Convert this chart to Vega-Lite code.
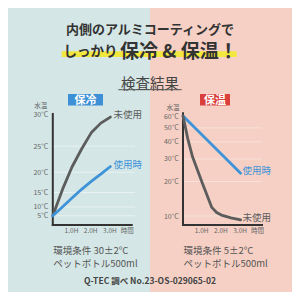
{
  "$schema": "https://vega.github.io/schema/vega-lite/v6.json",
  "background": "white",
  "padding": 8,
  "autosize": {"type": "pad"},
  "bounds": "flush",
  "spacing": 0,
  "config": {"view": {"stroke": null}, "font": "Noto Sans CJK JP", "text": {"font": "Noto Sans CJK JP"}},
  "datasets": {
    "lines": [
      {"panel": "保冷", "series": "未使用", "hour": 0, "temp": 5},
      {"panel": "保冷", "series": "未使用", "hour": 0.5, "temp": 15.8},
      {"panel": "保冷", "series": "未使用", "hour": 1, "temp": 21.1},
      {"panel": "保冷", "series": "未使用", "hour": 1.5, "temp": 24.5},
      {"panel": "保冷", "series": "未使用", "hour": 2, "temp": 27.2},
      {"panel": "保冷", "series": "未使用", "hour": 2.5, "temp": 28.7},
      {"panel": "保冷", "series": "未使用", "hour": 3, "temp": 29.6},
      {"panel": "保冷", "series": "使用時", "hour": 0, "temp": 5},
      {"panel": "保冷", "series": "使用時", "hour": 0.5, "temp": 10},
      {"panel": "保冷", "series": "使用時", "hour": 1, "temp": 13.3},
      {"panel": "保冷", "series": "使用時", "hour": 1.5, "temp": 15.9},
      {"panel": "保冷", "series": "使用時", "hour": 2, "temp": 17.9},
      {"panel": "保冷", "series": "使用時", "hour": 2.5, "temp": 19.6},
      {"panel": "保冷", "series": "使用時", "hour": 3, "temp": 21.2},
      {"panel": "保温", "series": "使用時", "hour": 0, "temp": 60},
      {"panel": "保温", "series": "使用時", "hour": 3, "temp": 23.3},
      {"panel": "保温", "series": "未使用", "hour": 0, "temp": 60},
      {"panel": "保温", "series": "未使用", "hour": 0.25, "temp": 42},
      {"panel": "保温", "series": "未使用", "hour": 0.5, "temp": 31},
      {"panel": "保温", "series": "未使用", "hour": 1, "temp": 19.5},
      {"panel": "保温", "series": "未使用", "hour": 1.5, "temp": 12},
      {"panel": "保温", "series": "未使用", "hour": 1.75, "temp": 10.8},
      {"panel": "保温", "series": "未使用", "hour": 2, "temp": 10.2},
      {"panel": "保温", "series": "未使用", "hour": 2.5, "temp": 9.6},
      {"panel": "保温", "series": "未使用", "hour": 3, "temp": 9.2}
    ],
    "gridL": [{"temp": 5}, {"temp": 10}, {"temp": 15}, {"temp": 20}, {"temp": 25}],
    "gridR": [{"temp": 10}, {"temp": 20}, {"temp": 30}, {"temp": 40}, {"temp": 50}]
  },
  "hconcat": [
    {
      "width": 142,
      "height": 284,
      "view": {"fill": "#d4e7e6", "stroke": null},
      "layer": [
        {
          "data": {"name": "gridL"},
          "mark": {"type": "rule", "color": "#ffffff", "opacity": 0.45, "strokeWidth": 1},
          "encoding": {
            "y": {
              "field": "temp", "type": "quantitative",
              "scale": {"type": "pow", "exponent": 2, "domain": [-25.17, 42.63], "nice": false, "zero": false},
              "axis": {"orient": "left", "offset": -44.8, "zindex": 2, "values": [5, 10, 15, 20, 25, 30], "labelExpr": "datum.value + '°C'", "domain": false, "ticks": false, "grid": false, "labelPadding": 5, "labelFontSize": 7, "labelColor": "#666666", "labelOverlap": false, "labelFlush": false,
                "title": "水温", "titleAngle": 0, "titleX": -12.5, "titleY": 97.3, "titleAlign": "center", "titleBaseline": "middle", "titleFontSize": 6.5, "titleFontWeight": "normal", "titleColor": "#666666"}
            },
            "x": {
              "datum": 0, "type": "quantitative",
              "scale": {"type": "linear", "domain": [-2.333, 5.0625], "nice": false, "zero": false},
              "axis": {"orient": "bottom", "offset": -67, "zindex": 2, "values": [1, 2, 3, 3.9], "labelExpr": "datum.value > 3.5 ? '時間' : format(datum.value, '.1f') + 'H'", "domain": false, "ticks": false, "grid": false, "labelPadding": 2, "labelFontSize": 6.5, "labelColor": "#666666", "labelFlush": false, "labelOverlap": false, "labelOffset": -1,
                "title": ["環境条件 30±2°C", "ペットボトル500ml"], "titleX": 44.8, "titleY": 20.5, "titleAlign": "left", "titleAnchor": "start", "titleBaseline": "top", "titleFontSize": 9.5, "titleFontWeight": "normal", "titleColor": "#555555", "titleLineHeight": 13}
            },
            "x2": {"datum": 4.28}
          }
        },
        {
          "data": {"values": [{}]},
          "mark": {"type": "rule", "color": "#333333", "strokeWidth": 2, "strokeCap": "square"},
          "encoding": {
            "x": {"datum": 0, "type": "quantitative", "scale": {"type": "linear", "domain": [-2.333, 5.0625], "nice": false, "zero": false}},
            "y": {"datum": -7.43, "type": "quantitative", "scale": {"type": "pow", "exponent": 2, "domain": [-25.17, 42.63], "nice": false, "zero": false}},
            "y2": {"datum": 30.05}
          }
        },
        {
          "data": {"values": [{}]},
          "mark": {"type": "rule", "color": "#333333", "strokeWidth": 2, "strokeCap": "square"},
          "encoding": {
            "x": {"datum": 0, "type": "quantitative", "scale": {"type": "linear", "domain": [-2.333, 5.0625], "nice": false, "zero": false}},
            "x2": {"datum": 4.11},
            "y": {"datum": -7.43, "type": "quantitative", "scale": {"type": "pow", "exponent": 2, "domain": [-25.17, 42.63], "nice": false, "zero": false}}
          }
        },
        {
          "data": {"name": "lines"},
          "transform": [{"filter": "datum.panel === '保冷'"}],
          "mark": {"type": "line", "strokeWidth": 2.8, "strokeCap": "round", "strokeJoin": "round"},
          "encoding": {
            "x": {"field": "hour", "type": "quantitative", "scale": {"type": "linear", "domain": [-2.333, 5.0625], "nice": false, "zero": false}},
            "y": {"field": "temp", "type": "quantitative", "scale": {"type": "pow", "exponent": 2, "domain": [-25.17, 42.63], "nice": false, "zero": false}},
            "color": {"field": "series", "type": "nominal", "scale": {"domain": ["未使用", "使用時"], "range": ["#5c5c5c", "#3f93d8"]}, "legend": null}
          }
        },
        {
          "data": {"name": "lines"},
          "transform": [{"filter": "datum.panel === '保冷' && datum.hour === 3"}],
          "mark": {"type": "text", "align": "left", "baseline": "middle", "dx": 3, "dy": -2, "fontSize": 9.5},
          "encoding": {
            "x": {"field": "hour", "type": "quantitative", "scale": {"type": "linear", "domain": [-2.333, 5.0625], "nice": false, "zero": false}},
            "y": {"field": "temp", "type": "quantitative", "scale": {"type": "pow", "exponent": 2, "domain": [-25.17, 42.63], "nice": false, "zero": false}},
            "text": {"field": "series"},
            "color": {"field": "series", "type": "nominal", "scale": {"domain": ["未使用", "使用時"], "range": ["#5c5c5c", "#3f93d8"]}, "legend": null}
          }
        },
        {
          "data": {"values": [{}]},
          "mark": {"type": "rect", "color": "#3d8fd6"},
          "encoding": {
            "x": {"datum": 0.792, "type": "quantitative", "scale": {"type": "linear", "domain": [-2.333, 5.0625], "nice": false, "zero": false}},
            "x2": {"datum": 2.615},
            "y": {"datum": 31.24, "type": "quantitative", "scale": {"type": "pow", "exponent": 2, "domain": [-25.17, 42.63], "nice": false, "zero": false}},
            "y2": {"datum": 32.79}
          }
        },
        {
          "data": {"values": [{"t": "保冷"}]},
          "mark": {"type": "text", "color": "#ffffff", "fontSize": 11, "fontWeight": "bold", "align": "center", "baseline": "middle"},
          "encoding": {
            "x": {"datum": 1.703, "type": "quantitative", "scale": {"type": "linear", "domain": [-2.333, 5.0625], "nice": false, "zero": false}},
            "y": {"datum": 31.82, "type": "quantitative", "scale": {"type": "pow", "exponent": 2, "domain": [-25.17, 42.63], "nice": false, "zero": false}},
            "text": {"field": "t"}
          }
        }
      ]
    },
    {
      "width": 142,
      "height": 284,
      "view": {"fill": "#f6d0c4", "stroke": null},
      "layer": [
        {
          "data": {"name": "gridR"},
          "mark": {"type": "rule", "color": "#ffffff", "opacity": 0.35, "strokeWidth": 1},
          "encoding": {
            "y": {
              "field": "temp", "type": "quantitative",
              "scale": {"type": "pow", "exponent": 0.2, "domain": [1.376, 245.3], "nice": false, "zero": false},
              "axis": {"orient": "left", "offset": -33, "zindex": 2, "values": [10, 20, 30, 40, 50, 60], "labelExpr": "datum.value + '°C'", "domain": false, "ticks": false, "grid": false, "labelPadding": 4.7, "labelFontSize": 7, "labelColor": "#666666", "labelOverlap": false, "labelFlush": false,
                "title": "水温", "titleAngle": 0, "titleX": -10.5, "titleY": 99, "titleAlign": "center", "titleBaseline": "middle", "titleFontSize": 6.5, "titleFontWeight": "normal", "titleColor": "#666666"}
            },
            "x": {
              "datum": 0, "type": "quantitative",
              "scale": {"type": "linear", "domain": [-1.719, 5.677], "nice": false, "zero": false},
              "axis": {"orient": "bottom", "offset": -67, "zindex": 2, "values": [1, 2, 3, 3.9], "labelExpr": "datum.value > 3.5 ? '時間' : format(datum.value, '.1f') + 'H'", "domain": false, "ticks": false, "grid": false, "labelPadding": 2, "labelFontSize": 6.5, "labelColor": "#666666", "labelFlush": false, "labelOverlap": false, "labelOffset": -1,
                "title": ["環境条件 5±2°C", "ペットボトル500ml"], "titleX": 33, "titleY": 20.5, "titleAlign": "left", "titleAnchor": "start", "titleBaseline": "top", "titleFontSize": 9.5, "titleFontWeight": "normal", "titleColor": "#555555", "titleLineHeight": 13}
            },
            "x2": {"datum": 4.115}
          }
        },
        {
          "data": {"values": [{}]},
          "mark": {"type": "rule", "color": "#333333", "strokeWidth": 2, "strokeCap": "square"},
          "encoding": {
            "x": {"datum": 0, "type": "quantitative", "scale": {"type": "linear", "domain": [-1.719, 5.677], "nice": false, "zero": false}},
            "y": {"datum": 8.21, "type": "quantitative", "scale": {"type": "pow", "exponent": 0.2, "domain": [1.376, 245.3], "nice": false, "zero": false}},
            "y2": {"datum": 62.5}
          }
        },
        {
          "data": {"values": [{}]},
          "mark": {"type": "rule", "color": "#333333", "strokeWidth": 2, "strokeCap": "square"},
          "encoding": {
            "x": {"datum": 0, "type": "quantitative", "scale": {"type": "linear", "domain": [-1.719, 5.677], "nice": false, "zero": false}},
            "x2": {"datum": 4.115},
            "y": {"datum": 8.21, "type": "quantitative", "scale": {"type": "pow", "exponent": 0.2, "domain": [1.376, 245.3], "nice": false, "zero": false}}
          }
        },
        {
          "data": {"name": "lines"},
          "transform": [{"filter": "datum.panel === '保温'"}],
          "mark": {"type": "line", "strokeWidth": 2.8, "strokeCap": "round", "strokeJoin": "round"},
          "encoding": {
            "x": {"field": "hour", "type": "quantitative", "scale": {"type": "linear", "domain": [-1.719, 5.677], "nice": false, "zero": false}},
            "y": {"field": "temp", "type": "quantitative", "scale": {"type": "pow", "exponent": 0.2, "domain": [1.376, 245.3], "nice": false, "zero": false}},
            "color": {"field": "series", "type": "nominal", "scale": {"domain": ["未使用", "使用時"], "range": ["#5c5c5c", "#db4140"]}, "legend": null}
          }
        },
        {
          "data": {"name": "lines"},
          "transform": [{"filter": "datum.panel === '保温' && datum.hour === 3"}],
          "mark": {"type": "text", "align": "left", "baseline": "middle", "dx": 2, "dy": -2, "fontSize": 9.5},
          "encoding": {
            "x": {"field": "hour", "type": "quantitative", "scale": {"type": "linear", "domain": [-1.719, 5.677], "nice": false, "zero": false}},
            "y": {"field": "temp", "type": "quantitative", "scale": {"type": "pow", "exponent": 0.2, "domain": [1.376, 245.3], "nice": false, "zero": false}},
            "text": {"field": "series"},
            "color": {"field": "series", "type": "nominal", "scale": {"domain": ["未使用", "使用時"], "range": ["#5c5c5c", "#db4140"]}, "legend": null}
          }
        },
        {
          "data": {"values": [{}]},
          "mark": {"type": "rect", "color": "#d9403b"},
          "encoding": {
            "x": {"datum": 0.885, "type": "quantitative", "scale": {"type": "linear", "domain": [-1.719, 5.677], "nice": false, "zero": false}},
            "x2": {"datum": 2.448},
            "y": {"datum": 70.14, "type": "quantitative", "scale": {"type": "pow", "exponent": 0.2, "domain": [1.376, 245.3], "nice": false, "zero": false}},
            "y2": {"datum": 82.69}
          }
        },
        {
          "data": {"values": [{"t": "保温"}]},
          "mark": {"type": "text", "color": "#ffffff", "fontSize": 11, "fontWeight": "bold", "align": "center", "baseline": "middle"},
          "encoding": {
            "x": {"datum": 1.667, "type": "quantitative", "scale": {"type": "linear", "domain": [-1.719, 5.677], "nice": false, "zero": false}},
            "y": {"datum": 74.53, "type": "quantitative", "scale": {"type": "pow", "exponent": 0.2, "domain": [1.376, 245.3], "nice": false, "zero": false}},
            "text": {"field": "t"}
          }
        },
        {
          "data": {"values": [{}]},
          "mark": {"type": "rect", "color": "#f2e73e"},
          "encoding": {
            "x": {"datum": -6.318, "type": "quantitative", "scale": {"type": "linear", "domain": [-1.719, 5.677], "nice": false, "zero": false}},
            "x2": {"datum": 2.797},
            "y": {"datum": 136.0, "type": "quantitative", "scale": {"type": "pow", "exponent": 0.2, "domain": [1.376, 245.3], "nice": false, "zero": false}},
            "y2": {"datum": 146.2}
          }
        },
        {
          "data": {"values": [{"t": "内側のアルミコーティングで"}]},
          "mark": {"type": "text", "color": "#333333", "fontSize": 13, "fontWeight": "bold", "align": "center", "baseline": "middle"},
          "encoding": {
            "x": {"datum": -1.719, "type": "quantitative", "scale": {"type": "linear", "domain": [-1.719, 5.677], "nice": false, "zero": false}},
            "y": {"datum": 189.84, "type": "quantitative", "scale": {"type": "pow", "exponent": 0.2, "domain": [1.376, 245.3], "nice": false, "zero": false}},
            "text": {"field": "t"}
          }
        },
        {
          "data": {"values": [{"t": "しっかり"}]},
          "mark": {"type": "text", "color": "#333333", "fontSize": 13.5, "fontWeight": "bold", "align": "right", "baseline": "middle"},
          "encoding": {
            "x": {"datum": -3.411, "type": "quantitative", "scale": {"type": "linear", "domain": [-1.719, 5.677], "nice": false, "zero": false}},
            "y": {"datum": 144.53, "type": "quantitative", "scale": {"type": "pow", "exponent": 0.2, "domain": [1.376, 245.3], "nice": false, "zero": false}},
            "text": {"field": "t"}
          }
        },
        {
          "data": {"values": [{"t": "保冷 & 保温！"}]},
          "mark": {"type": "text", "color": "#333333", "fontSize": 19, "fontWeight": "bold", "align": "left", "baseline": "middle"},
          "encoding": {
            "x": {"datum": -3.281, "type": "quantitative", "scale": {"type": "linear", "domain": [-1.719, 5.677], "nice": false, "zero": false}},
            "y": {"datum": 144.53, "type": "quantitative", "scale": {"type": "pow", "exponent": 0.2, "domain": [1.376, 245.3], "nice": false, "zero": false}},
            "text": {"field": "t"}
          }
        },
        {
          "data": {"values": [{"t": "検査結果"}]},
          "mark": {"type": "text", "color": "#444444", "fontSize": 14.5, "align": "center", "baseline": "middle"},
          "encoding": {
            "x": {"datum": -1.719, "type": "quantitative", "scale": {"type": "linear", "domain": [-1.719, 5.677], "nice": false, "zero": false}},
            "y": {"datum": 94.41, "type": "quantitative", "scale": {"type": "pow", "exponent": 0.2, "domain": [1.376, 245.3], "nice": false, "zero": false}},
            "text": {"field": "t"}
          }
        },
        {
          "data": {"values": [{}]},
          "mark": {"type": "rule", "color": "#555555", "strokeWidth": 1},
          "encoding": {
            "x": {"datum": -3.37, "type": "quantitative", "scale": {"type": "linear", "domain": [-1.719, 5.677], "nice": false, "zero": false}},
            "x2": {"datum": -0.068},
            "y": {"datum": 87.86, "type": "quantitative", "scale": {"type": "pow", "exponent": 0.2, "domain": [1.376, 245.3], "nice": false, "zero": false}}
          }
        },
        {
          "data": {"values": [{"t": "Q-TEC 調べ No.23-OS-029065-02"}]},
          "mark": {"type": "text", "color": "#444444", "fontSize": 8.5, "fontWeight": "bold", "align": "center", "baseline": "middle"},
          "encoding": {
            "x": {"datum": -1.719, "type": "quantitative", "scale": {"type": "linear", "domain": [-1.719, 5.677], "nice": false, "zero": false}},
            "y": {"datum": 1.963, "type": "quantitative", "scale": {"type": "pow", "exponent": 0.2, "domain": [1.376, 245.3], "nice": false, "zero": false}},
            "text": {"field": "t"}
          }
        }
      ]
    }
  ]
}
